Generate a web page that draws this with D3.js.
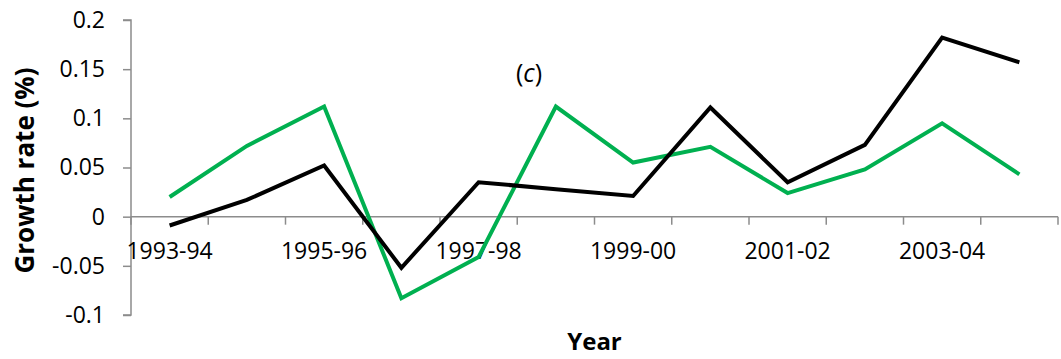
<!DOCTYPE html>
<html>
<head>
<meta charset="utf-8">
<script src="https://cdn.jsdelivr.net/npm/d3@7"></script>
<style>
  html, body { margin: 0; padding: 0; background: #fff; }
  svg { display: block; font-family: "Open Sans", "Noto Sans", sans-serif; }
</style>
</head>
<body>
<svg id="chart" width="1061" height="359"></svg>
<script>
// Fiscal years on the category axis
const years = ["1993-94", "1994-95", "1995-96", "1996-97", "1997-98", "1998-99",
               "1999-00", "2000-01", "2001-02", "2002-03", "2003-04", "2004-05"];

// Annual growth rates (%) for the two series
const greenSeries = [0.020, 0.072, 0.112, -0.083, -0.041, 0.112,
                     0.055, 0.071, 0.024, 0.048, 0.095, 0.043];
const blackSeries = [-0.009, 0.017, 0.052, -0.052, 0.035, 0.028,
                     0.021, 0.111, 0.035, 0.073, 0.182, 0.157];

// Value-axis ticks and their printed labels
const yTicks = [0.2, 0.15, 0.1, 0.05, 0, -0.05, -0.1];
const yTickLabels = ["0.2", "0.15", "0.1", "0.05", "0", "-0.05", "-0.1"];

// Every other year is labelled
const xLabelYears = ["1993-94", "1995-96", "1997-98", "1999-00", "2001-02", "2003-04"];

const svg = d3.select("#chart");
const plot = { left: 131, right: 1058, top: 20, bottom: 315 };

const x = d3.scaleBand().domain(years).range([plot.left, plot.right]).paddingInner(0).paddingOuter(0);
const y = d3.scaleLinear().domain([-0.1, 0.2]).range([plot.bottom, plot.top]);

const axisColor = "#8c8c8c";

// Value axis
const yAxis = d3.axisLeft(y)
  .tickValues(yTicks)
  .tickSize(8)
  .tickPadding(18)
  .tickFormat((d, i) => yTickLabels[i]);
const gy = svg.append("g").attr("transform", `translate(${plot.left},0)`).call(yAxis);
gy.select(".domain").attr("stroke", axisColor).attr("stroke-width", 1.5).attr("d", `M-8,${y(0.2)}H0V${y(-0.1)}H-8`);
gy.selectAll(".tick line").attr("stroke", axisColor).attr("stroke-width", 1.5);
gy.selectAll(".tick text")
  .attr("fill", "#000")
  .style("font-size", "23px")
  .style("font-family", "'Open Sans', sans-serif");

// Category axis along the zero line
const y0 = y(0);
const gx = svg.append("g");
gx.append("line")
  .attr("x1", plot.left).attr("x2", plot.right)
  .attr("y1", y0).attr("y2", y0)
  .attr("stroke", axisColor).attr("stroke-width", 1.5);
const boundaries = years.map(d => x(d)).concat([x(years[years.length - 1]) + x.bandwidth()]);
gx.selectAll("line.tick")
  .data(boundaries)
  .join("line")
  .attr("class", "tick")
  .attr("x1", d => d).attr("x2", d => d)
  .attr("y1", y0).attr("y2", y0 + 8)
  .attr("stroke", axisColor).attr("stroke-width", 1.5);
gx.selectAll("text")
  .data(xLabelYears)
  .join("text")
  .attr("x", d => x(d) + x.bandwidth() / 2)
  .attr("y", y0 + 42)
  .attr("text-anchor", "middle")
  .style("font-size", "23px")
  .attr("fill", "#000")
  .text(d => d);

// Series lines
const line = d3.line()
  .x((d, i) => x(years[i]) + x.bandwidth() / 2)
  .y(d => y(d));

svg.append("path")
  .datum(greenSeries)
  .attr("d", line)
  .attr("fill", "none")
  .attr("stroke", "#00b050")
  .attr("stroke-width", 4)
  .attr("stroke-linejoin", "miter");

svg.append("path")
  .datum(blackSeries)
  .attr("d", line)
  .attr("fill", "none")
  .attr("stroke", "#000")
  .attr("stroke-width", 4)
  .attr("stroke-linejoin", "miter");

// Panel tag
const tag = svg.append("text")
  .attr("x", 529)
  .attr("y", 82)
  .attr("text-anchor", "middle")
  .style("font-size", "25px")
  .attr("fill", "#000");
tag.append("tspan").text("(");
tag.append("tspan").style("font-style", "italic").text("c");
tag.append("tspan").text(")");

// Axis titles
svg.append("text")
  .attr("x", (plot.left + plot.right) / 2)
  .attr("y", 350)
  .attr("text-anchor", "middle")
  .style("font-size", "24px")
  .style("font-weight", "bold")
  .attr("fill", "#000")
  .text("Year");

svg.append("text")
  .attr("transform", `translate(34,${(68 + 273) / 2}) rotate(-90)`)
  .attr("text-anchor", "middle")
  .style("font-size", "26px")
  .style("font-weight", "bold")
  .attr("fill", "#000")
  .text("Growth rate (%)");
</script>
</body>
</html>
